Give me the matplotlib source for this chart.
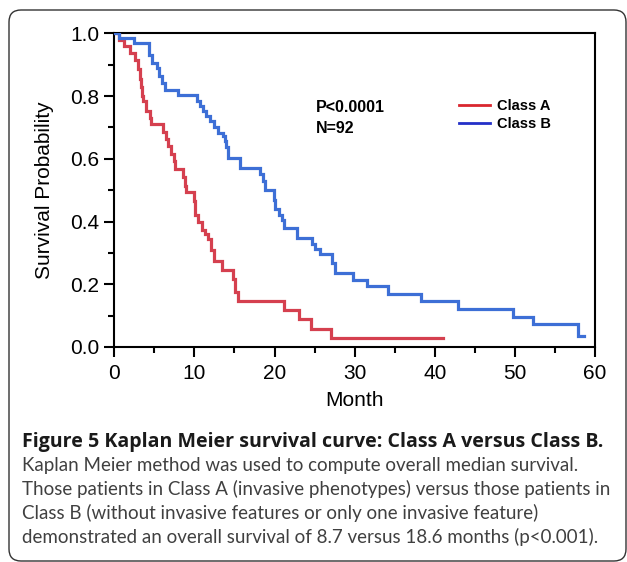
import matplotlib
matplotlib.use("Agg")
import matplotlib.pyplot as plt
from matplotlib.patches import FancyBboxPatch
from matplotlib.transforms import IdentityTransform
from matplotlib.lines import Line2D

# ---- data ----
class_a_months = [0, 0.6, 1.2, 2.0, 2.6, 3.0, 3.2, 3.3, 3.4, 3.6, 4.0, 4.4, 4.6,
                  6.1, 6.4, 6.7, 7.1, 7.4, 7.6, 8.6, 8.8, 9.0, 9.9, 10.1, 10.5,
                  10.9, 11.3, 11.7, 12.1, 12.4, 13.4, 14.8, 15.1, 15.5, 21.2,
                  23.1, 24.6, 27.0, 41.0]
class_a_surv = [1.0, 0.978, 0.958, 0.936, 0.915, 0.885, 0.855, 0.83, 0.80, 0.785,
                0.752, 0.731, 0.712, 0.686, 0.664, 0.642, 0.615, 0.594, 0.568,
                0.541, 0.514, 0.494, 0.467, 0.42, 0.398, 0.372, 0.36, 0.345,
                0.31, 0.273, 0.245, 0.218, 0.175, 0.146, 0.117, 0.088, 0.057,
                0.028, 0.028]

class_b_months = [0, 0.6, 2.4, 4.3, 4.7, 5.3, 5.6, 6.0, 6.3, 8.0, 10.3, 10.7,
                  11.1, 11.5, 12.0, 12.4, 13.0, 13.6, 13.8, 14.0, 14.2, 15.7,
                  18.2, 18.6, 18.8, 19.9, 20.1, 20.6, 20.9, 21.2, 22.8, 24.7,
                  25.1, 25.7, 27.2, 27.6, 29.8, 31.6, 34.2, 38.3, 42.9, 49.8,
                  52.2, 57.9, 58.6]
class_b_surv = [1.0, 0.984, 0.968, 0.93, 0.905, 0.889, 0.865, 0.84, 0.818, 0.803,
                0.784, 0.768, 0.752, 0.737, 0.72, 0.70, 0.683, 0.672, 0.657,
                0.636, 0.604, 0.57, 0.551, 0.53, 0.50, 0.47, 0.44, 0.422, 0.405,
                0.378, 0.348, 0.327, 0.311, 0.296, 0.268, 0.236, 0.214, 0.193,
                0.17, 0.146, 0.121, 0.096, 0.072, 0.035, 0.035]

series_labels = ["Class A", "Class B"]
x_ticks = [0, 10, 20, 30, 40, 50, 60]
y_ticks = [0.0, 0.2, 0.4, 0.6, 0.8, 1.0]
y_tick_labels = ["0.0", "0.2", "0.4", "0.6", "0.8", "1.0"]

caption_title = "Figure 5 Kaplan Meier survival curve: Class A versus Class B."
caption_lines = [
    "Kaplan Meier method was used to compute overall median survival.",
    "Those patients in Class A (invasive phenotypes) versus those patients in",
    "Class B (without invasive features or only one invasive feature)",
    "demonstrated an overall survival of 8.7 versus 18.6 months (p<0.001).",
]

# ---- figure ----
W, H = 627, 562
fig = plt.figure(figsize=(W / 100, H / 100), dpi=100)
fig.patch.set_facecolor("white")

ax = fig.add_axes([114.3 / W, 1 - 347 / H, (595 - 114.3) / W, (347 - 33.3) / H])

red = "#d5404f"
blue = "#3d6fd6"
ax.step(class_a_months, class_a_surv, where="post", color=red, lw=2.3,
        solid_joinstyle="miter", zorder=3)
ax.step(class_b_months, class_b_surv, where="post", color=blue, lw=2.3,
        solid_joinstyle="miter", zorder=3)

ax.set_xlim(0, 60)
ax.set_ylim(0, 1.0)
ax.set_xticks(x_ticks)
ax.set_xticks(range(5, 60, 10), minor=True)
ax.set_yticks(y_ticks)
ax.set_yticklabels(y_tick_labels)
ax.set_yticks([0.1, 0.3, 0.5, 0.7, 0.9], minor=True)

for s in ax.spines.values():
    s.set_linewidth(1.5)
    s.set_color("black")

font = ["Liberation Sans", "DejaVu Sans"]
ax.tick_params(axis="both", which="major", direction="out", length=7, width=1.5,
               labelsize=15, top=False, right=False)
ax.tick_params(axis="both", which="minor", direction="out", length=4, width=1.5,
               top=False, right=False)
ax.tick_params(axis="x", which="major", pad=5)
ax.tick_params(axis="y", which="major", pad=4)
for lab in ax.get_xticklabels() + ax.get_yticklabels():
    lab.set_family(font)

ax.set_xlabel("Month", fontsize=15, family=font, labelpad=6)
ax.set_ylabel("Survival Probability", fontsize=15, family=font, labelpad=11)

ax.text(25.2, 0.762, "P<0.0001", fontsize=11.5, fontweight="bold", family=font,
        va="center", ha="left")
ax.text(25.2, 0.697, "N=92", fontsize=11.5, fontweight="bold", family=font,
        va="center", ha="left")

handles = [Line2D([], [], color="#d9262e", lw=2),
           Line2D([], [], color="#2430c8", lw=2)]
leg = ax.legend(handles, series_labels, loc="upper left",
                bbox_to_anchor=(459 / W, 1 - 99 / H), bbox_transform=fig.transFigure,
                frameon=False, prop={"family": font, "weight": "bold", "size": 10.5},
                handlelength=2.15, handletextpad=0.45, labelspacing=0.3,
                borderpad=0, borderaxespad=0)

# ---- caption ----
fig.text(22 / W, 1 - 447 / H, caption_title, fontsize=14.1, fontweight="bold",
         family=["Open Sans", "DejaVu Sans"], color="#1a1a1a", va="baseline",
         ha="left")
for i, line in enumerate(caption_lines):
    fig.text(22 / W, 1 - (471 + 24 * i) / H, line, fontsize=13.5,
             fontweight="normal", family=["Lato", "DejaVu Sans"], color="#404040",
             va="baseline", ha="left")

# ---- rounded frame ----
frame = FancyBboxPatch((9, 1), 617, 551, boxstyle="round,pad=0,rounding_size=12",
                       transform=IdentityTransform(), fill=False, ec="#333333", lw=1.0)
fig.add_artist(frame)

fig.savefig("out.png", dpi=100)
